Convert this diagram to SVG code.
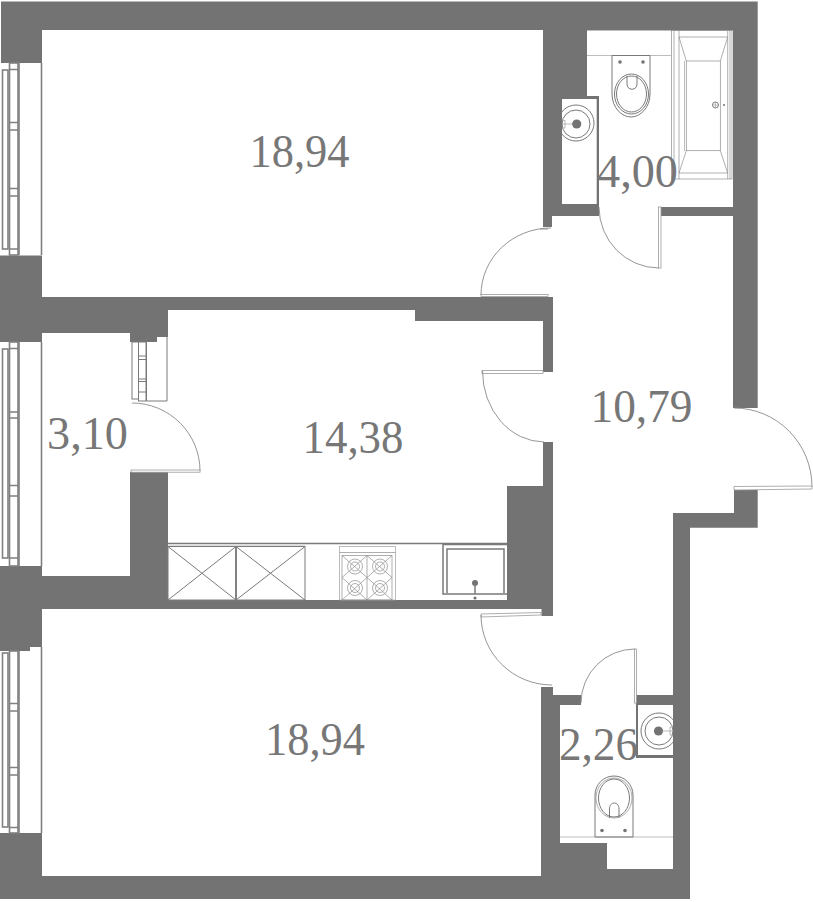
<svg xmlns="http://www.w3.org/2000/svg" width="813" height="902" viewBox="0 0 813 902">
<defs>
<style>
.wall{fill:#737373}
.win{fill:none;stroke:#808080;stroke-width:1.6}
.fx{fill:none;stroke:#7a7a7a;stroke-width:1}
.fxt{fill:none;stroke:#a0a0a0;stroke-width:.7}
.stv{fill:none;stroke:#8c8c8c;stroke-width:.7}
.fxb{fill:none;stroke:#7a7a7a;stroke-width:1.5}
.door{fill:none;stroke:#8a8a8a;stroke-width:.9}
.leaf{fill:#fff;stroke:#999;stroke-width:.8}
.dot{fill:#737373}
text{font-family:"Liberation Serif","Times New Roman",serif;font-size:47px;fill:#777}
</style>
<clipPath id="c1"><rect x="562" y="99" width="35" height="105"/></clipPath>
<clipPath id="c2"><rect x="638" y="705" width="35" height="50"/></clipPath>
</defs>
<rect width="813" height="902" fill="#fff"/>
<g id="walls">
<path class="wall" d="M1 1.500H757.700V408H733V216H661V207H733V30H587V96H599V216H552V227H543V30H42V63H1Z"/>
<path class="wall" d="M0 255.500H42V297H553V372H543V321H415V310H168V337H157V342H130V333H42V342H0Z"/>
<path class="wall" d="M543 442H553V616H541.500V609H168V600H507V486H543Z"/>
<path class="wall" d="M130 472H168V609H42V647H30V651H0V566H42V576H130Z"/>
<path class="wall" d="M0 833H42V876H541V687H553V695H581V705H560V843H607V869H673V758H636V695H673V513H734V490H757.700V527.700H690V899H0Z"/>
<rect x="562" y="99" width="34.700" height="105" fill="#fff"/>
<rect x="638" y="705" width="35" height="50" fill="#fff"/>
</g>
<g id="windows">
<g id="window-1">
<rect class="win" x="2.500" y="70" width="5.500" height="179"/>
<rect class="win" x="9.500" y="63" width="8.500" height="192"/>
<path class="win" d="M9.500 69.500H18M9.500 122.500H18M9.500 130H18M9.500 188.500H18M9.500 196H18M9.500 249H18M19 63V255M41.500 63V255"/>
</g>
<g id="window-2">
<rect class="win" x="2.500" y="349" width="5.500" height="209"/>
<rect class="win" x="9.500" y="342" width="8.500" height="224"/>
<path class="win" d="M9.500 348.500H18M9.500 412H18M9.500 418H18M9.500 485.500H18M9.500 496H18M9.500 558H18M19 342V566M41.500 342V566"/>
</g>
<g id="window-3">
<rect class="win" x="2.500" y="653" width="5.500" height="174"/>
<rect class="win" x="9.500" y="651" width="8.500" height="182"/>
<path class="win" d="M9.500 703.500H18M9.500 711H18M9.500 767.500H18M9.500 775H18M9.500 827.500H18M19 651V833M41.500 647V833"/>
</g>
</g>
<g id="closet">
<rect class="fx" x="132" y="342" width="6.500" height="57"/>
<rect class="fx" x="138.500" y="342" width="7.500" height="59"/>
<path class="fx" d="M138.500 356H146M138.500 359.500H146M138.500 379H146M138.500 381.500H146M138.500 392H146"/>
<path class="fx" d="M146.500 337V401H167V337"/>
</g>
<g id="kitchen">
<path class="fxb" d="M168 543.500H507"/>
<path class="fxt" d="M168 546H305"/>
<g id="cabinet-1"><rect class="fx" x="168" y="546.500" width="68" height="53.500"/><path class="fx" d="M168 546.500L236 600M236 546.500L168 600"/></g>
<g id="cabinet-2"><rect class="fx" x="236" y="546.500" width="69" height="53.500"/><path class="fx" d="M236 546.500L305 600M305 546.500L236 600"/><path class="fxb" d="M236 546V600"/></g>
<g id="stove">
<rect class="fxt" x="339.500" y="546.500" width="56" height="53.500"/>
<path class="stv" d="M339.500 552.500H395.500"/>
<rect class="stv" x="342" y="555.500" width="50" height="44.500"/>
<path class="stv" d="M367 555.500V600M342 555.500L367 577.500L392 555.500M342 600L367 577.500L392 600M367 555.500L342 577.500L367 600L392 577.500Z"/>
<g class="stv"><circle cx="355" cy="566.500" r="7.500"/><circle cx="355" cy="566.500" r="4.500"/><circle cx="380" cy="566.500" r="7.500"/><circle cx="380" cy="566.500" r="4.500"/><circle cx="355" cy="588" r="7.500"/><circle cx="355" cy="588" r="4.500"/><circle cx="380" cy="588" r="7.500"/><circle cx="380" cy="588" r="4.500"/></g>
</g>
<g id="kitchen-sink">
<path class="fxb" d="M507 544.500H443V594H507"/>
<path class="fxb" d="M504 593V549H447V593"/>
<circle class="dot" cx="475" cy="583" r="3"/>
<path class="fxb" d="M475 583V594"/>
<circle class="dot" cx="475" cy="598" r="1.600"/>
</g>
</g>
<g id="bath">
<path class="fxt" d="M587 30.500H733"/>
<path class="fxt" d="M587 55.500H671"/>
<rect class="stv" x="671.500" y="30.500" width="60.500" height="148.500"/>
<path class="stv" d="M674 31V179M679 31V179M727.700 31V179M730 31V179M679 37H727.700M679 173H727.700"/>
<rect class="stv" x="686.300" y="61" width="34" height="89.700"/>
<path class="fxt" d="M684.500 61V151"/>
<path class="stv" d="M679 37L686.300 61M727.700 37L720.300 61M686.300 150.700L679 173M720.300 150.700L727.700 173"/>
<circle class="fx" cx="715.500" cy="105" r="3"/>
<path class="fxt" d="M712.500 105H718.500M715.500 102V108"/>
<circle class="dot" cx="724" cy="105" r="1"/>
</g>
<g id="toilet-1">
<path class="fx" d="M612 55.500H650V94C650 108 640 117 631 117S612 108 612 94Z"/>
<circle class="dot" cx="620" cy="62" r="1.800"/>
<circle class="dot" cx="643" cy="62" r="1.800"/>
<ellipse class="fx" cx="631.500" cy="94" rx="17" ry="20"/>
<ellipse class="fx" cx="631.500" cy="94" rx="15" ry="18"/>
<path class="fx" d="M627 76V84C627 91 637 91 637 84V76"/>
</g>
<g id="sink-1" clip-path="url(#c1)">
<circle class="fx" cx="576" cy="123" r="18"/>
<circle class="fx" cx="576" cy="124" r="14"/>
<circle class="dot" cx="576.700" cy="124" r="4.600"/>
<path class="fxt" d="M562 124H572M562 120.500H565V128H562"/>
</g>
<g id="toilet-2">
<path class="fxt" d="M560 837H673"/>
<path class="fx" d="M595 837H633V795C633 785 625 776 614 776S595 785 595 795Z"/>
<circle class="dot" cx="602" cy="830.500" r="1.800"/>
<circle class="dot" cx="625" cy="830.500" r="1.800"/>
<ellipse class="fx" cx="614" cy="798" rx="15.500" ry="19"/>
<ellipse class="fx" cx="614" cy="798" rx="18" ry="20" opacity=".6"/>
<path class="fx" d="M609.500 818V809C609.500 801 619 801 619 809V818"/>
</g>
<g id="sink-2" clip-path="url(#c2)">
<circle class="fx" cx="659" cy="731" r="18"/>
<circle class="fx" cx="659" cy="731" r="14"/>
<circle class="dot" cx="658.500" cy="731" r="4.600"/>
<path class="fxt" d="M662 731H673M673 727H670V735H673"/>
</g>
<g id="connectors">
<g id="door-bedroom-1"><rect class="leaf" x="481" y="294.500" width="67" height="2"/><path class="door" d="M481 295A70 67 0 0 1 551 228"/><path class="door" d="M540 229H548"/></g>
<g id="door-bath"><path class="door" d="M599 207A60 61 0 0 0 659 268"/><rect class="leaf" x="658.500" y="207" width="2.500" height="61"/></g>
<g id="door-kitchen"><rect class="leaf" x="482" y="370.500" width="61" height="3"/><path class="door" d="M482.500 371A62 71 0 0 0 544 442"/></g>
<g id="door-entrance"><path class="door" d="M734 408A78 79 0 0 1 812 487"/><path class="leaf" d="M734 486.500L812 486V489L734 490Z"/></g>
<g id="door-closet"><path class="door" d="M132 403A68 68 0 0 1 200 471"/><rect class="leaf" x="131" y="470" width="69" height="2.200"/></g>
<g id="door-bedroom-3"><path class="leaf" d="M481 614L541 612.500V615L481 617Z"/><path class="door" d="M481 615A71 70 0 0 0 552 685"/></g>
<g id="door-wc"><path class="door" d="M581 703A54 54 0 0 1 635 649"/><rect class="leaf" x="634.500" y="649" width="2" height="54"/></g>
</g>
<g id="labels">
<text x="249.500" y="166.500" textLength="100" lengthAdjust="spacingAndGlyphs">18,94</text>
<text x="597" y="187" textLength="81" lengthAdjust="spacingAndGlyphs">4,00</text>
<text x="47" y="449" textLength="81" lengthAdjust="spacingAndGlyphs">3,10</text>
<text x="302.500" y="453" textLength="101" lengthAdjust="spacingAndGlyphs">14,38</text>
<text x="590.500" y="421.500" textLength="102" lengthAdjust="spacingAndGlyphs">10,79</text>
<text x="265" y="755" textLength="100" lengthAdjust="spacingAndGlyphs">18,94</text>
<text x="559" y="760" textLength="79" lengthAdjust="spacingAndGlyphs">2,26</text>
</g>
</svg>
